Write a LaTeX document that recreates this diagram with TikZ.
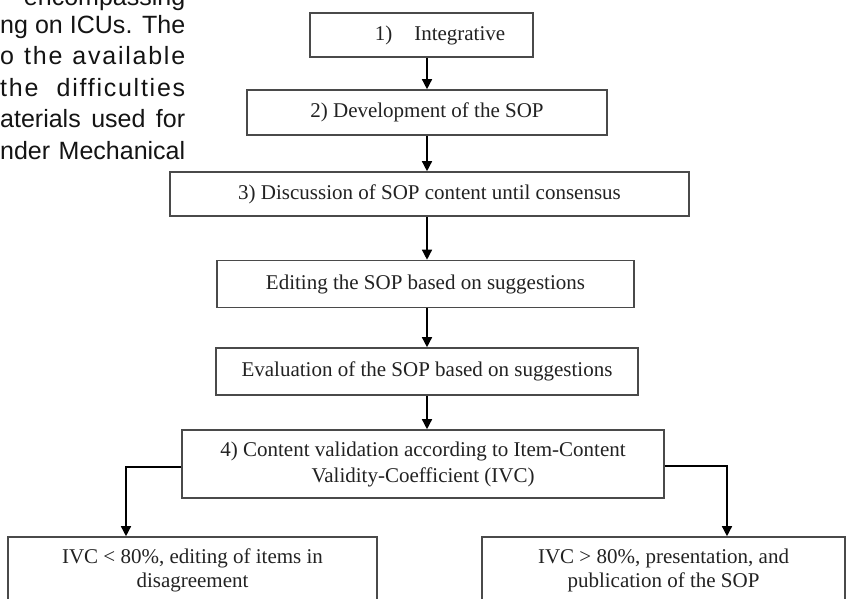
\documentclass[tikz,border=0pt]{standalone}
\usepackage{fontspec}
\setmainfont{Liberation Serif}
\newfontfamily\parafont{Liberation Sans}
\newfontfamily\paraspaced[LetterSpace=7]{Liberation Sans}
\usetikzlibrary{arrows.meta}
\definecolor{boxgray}{HTML}{4A4A4A}
\definecolor{txt}{HTML}{222222}
\begin{document}
\begin{tikzpicture}[x=1pt,y=-1pt,
  box/.style={draw=boxgray, line width=1.6pt, inner sep=0pt, align=center, text=txt,
              font=\fontsize{21}{24}\selectfont},
  arr/.style={line width=1.4pt, draw=black, -{Triangle[length=10pt,width=10pt]}},
  para/.style={anchor=base west, inner sep=0pt, text=black!92,
               font=\parafont\fontsize{25}{30}\selectfont}]
\useasboundingbox (0,0) rectangle (848,598);
\clip (0,0) rectangle (848,598);
\fill[white] (0,0) rectangle (848,598);

% left paragraph fragment
\node[para] (p0) at (0,5)     {\makebox[185pt][r]{encompassing}};
\node[para] (p1) at (0,33)    {\makebox[185pt][s]{ng on ICUs. The}};
\node[para] (p2) at (0,64.5)  {\paraspaced\fontsize{25}{30}\selectfont\makebox[185pt][s]{o the available}};
\node[para] (p3) at (0,96)    {\paraspaced\fontsize{25}{30}\selectfont\makebox[185pt][s]{the difficulties}};
\node[para] (p4) at (0,127.5) {\makebox[185pt][s]{aterials used for}};
\node[para] (p5) at (0,159)   {\makebox[185pt][s]{nder Mechanical}};

% boxes
\node[box, minimum width=223pt, minimum height=44pt] (b1) at (421.5,35)
  {\hspace*{37pt}1)\hspace{22pt}Integrative};
\node[box, minimum width=360pt, minimum height=45pt] (b2) at (427,112.5)
  {2) Development of the SOP};
\node[box, minimum width=519pt, minimum height=44pt] (b3) at (429.5,194)
  {3) Discussion of SOP content until consensus};
\node[box, minimum width=417pt, minimum height=47pt] (b4) at (425.5,284)
  {Editing the SOP based on suggestions};
\node[box, minimum width=422pt, minimum height=47pt] (b5) at (427,371.5)
  {Evaluation of the SOP based on suggestions};
\node[box, minimum width=482pt, minimum height=68pt, font=\fontsize{21}{26}\selectfont] (b6) at (423,464)
  {4) Content validation according to Item-Content\\Validity-Coefficient (IVC)};
\node[box, minimum width=369pt, minimum height=66pt] (b7) at (192.5,570)
  {IVC < 80\%, editing of items in\\disagreement};
\node[box, minimum width=363pt, minimum height=66pt] (b8) at (663.5,570)
  {IVC > 80\%, presentation, and\\publication of the SOP};

% connectors
\coordinate (ax) at (427,0);
\draw[arr] (b1.south -| ax) -- (b2.north -| ax);
\draw[arr] (b2.south -| ax) -- (b3.north -| ax);
\draw[arr] (b3.south -| ax) -- (b4.north -| ax);
\draw[arr] (b4.south -| ax) -- (b5.north -| ax);
\draw[arr] (b5.south -| ax) -- (b6.north -| ax);
\coordinate (lj) at (126,467);
\coordinate (rj) at (727,466);
\draw[arr] (b6.west |- lj) -| (b7.north -| lj);
\draw[arr] (b6.east |- rj) -| (b8.north -| rj);
\end{tikzpicture}
\end{document}
